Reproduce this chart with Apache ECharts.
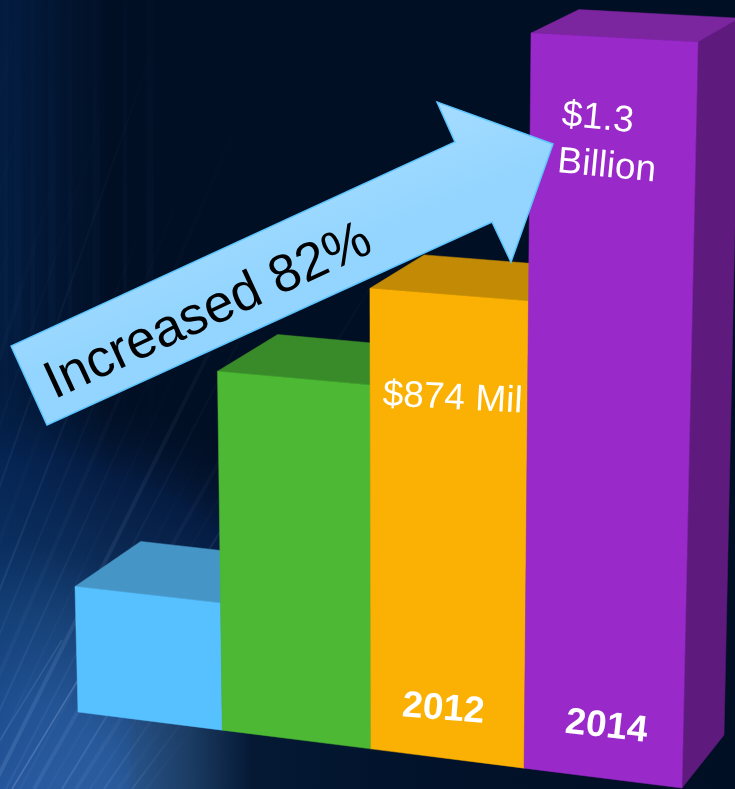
<!DOCTYPE html>
<html><head><meta charset="utf-8">
<style>html,body{margin:0;padding:0;background:#010f24}#c{width:735px;height:789px}</style>
<script src="https://cdn.jsdelivr.net/npm/echarts@6/dist/echarts.min.js"></script>
</head><body><div id="c"></div>
<script>
// ---- data ----
const categories = ['', ' ', '2012', '2014'];
const revenue = [315, 714, 874, 1300];
const valueLabels = ['', '', '$874 Mil', '$1.3\nBillion'];
const frontColors = ['#57C1FF', '#4CB833', '#FBB103', '#9929C8'];
const topColors = ['#4596C6', '#398B29', '#C28A05', '#7B259F'];
const sideColors = ['#3E86B2', '#33771F', '#A87803', '#5F1A7E'];
const arrowText = 'Increased 82%';

// ---- layout of the tilted picture plane ----
const PLANE = {bl:[78,712], br:[682,788], tr:[698,42], tl:[61,8]};
const VANISH = [1760,-570], DEPTH = 0.039;
const LABEL_OFF = {2:{dx:4,dy:104,rot:3,align:'center'}, 3:{dx:-54,dy:101,rot:5.5,align:'left'}};
const YEAR_OFF = {2:[-3.5,-49,4.5], 3:[4,-51,6.5]};

function makeWarp(q){
  const [x0,y0]=q.bl,[x1,y1]=q.br,[x2,y2]=q.tr,[x3,y3]=q.tl;
  const dx1=x1-x2,dx2=x3-x2,sx=x0-x1+x2-x3,dy1=y1-y2,dy2=y3-y2,sy=y0-y1+y2-y3;
  const den=dx1*dy2-dx2*dy1,g=(sx*dy2-dx2*sy)/den,h=(dx1*sy-sx*dy1)/den;
  const a=x1-x0+g*x1,b=x3-x0+h*x3,d=y1-y0+g*y1,e=y3-y0+h*y3;
  return (u,v)=>{const w=g*u+h*v+1;return [(a*u+b*v+x0)/w,(d*u+e*v+y0)/w];};
}
const warp = makeWarp(PLANE);
const back = p => [p[0]+DEPTH*(VANISH[0]-p[0]), p[1]+DEPTH*(VANISH[1]-p[1])];

function renderBar(params, api){
  const i = api.value(0), cs = params.coordSys;
  const band = api.size([1,0])[0];
  const top = api.coord([i, api.value(1)]);
  const toPlane = (px,py)=>warp((px-cs.x)/cs.width,(cs.y+cs.height-py)/cs.height);
  const bottomY = cs.y+cs.height;
  const bl=toPlane(top[0]-band/2,bottomY), br=toPlane(top[0]+band/2,bottomY);
  const tl=toPlane(top[0]-band/2,top[1]), tr=toPlane(top[0]+band/2,top[1]);
  const poly=(pts,fill)=>({type:'polygon',shape:{points:pts},style:{fill,stroke:fill,lineWidth:0.5}});
  const children=[
    poly([tr,br,back(br),back(tr)],sideColors[i]),
    poly([tl,tr,back(tr),back(tl)],topColors[i]),
    poly([bl,br,tr,tl],frontColors[i])
  ];
  const txt=(s,p,rot,extra)=>({type:'text',x:p[0],y:p[1],rotation:-rot*Math.PI/180,
    style:Object.assign({text:s,fill:'#fff',font:'37px "Liberation Sans", Arial, sans-serif',align:'center',verticalAlign:'middle'},extra||{})});
  const midTop=toPlane(top[0],top[1]), midBot=toPlane(top[0],bottomY);
  if(valueLabels[i]){
    const o=LABEL_OFF[i];
    children.push(txt(valueLabels[i],[midTop[0]+o.dx,midTop[1]+o.dy],o.rot,{align:o.align,lineHeight:47}));
  }
  if(categories[i].trim()){
    const o=YEAR_OFF[i];
    children.push(txt(categories[i],[midBot[0]+o[0],midBot[1]+o[1]],o[2],{font:'bold 37px "Liberation Sans", Arial, sans-serif'}));
  }
  return {type:'group',children};
}

// ---- decorative background ----
const rayAlpha=[0.05,0.10,0.04,0.14,0.07];
const rays=[];
for(let k=0;k<30;k++){
  const x0=-260+k*14, a=(82-(x0+260)/410*30)*Math.PI/180, L=300+(k%4)*90+(29-k)*14;
  const x2=x0+L*Math.cos(a), y2=789-L*Math.sin(a);
  rays.push({type:'line',silent:true,z:-8,shape:{x1:x0,y1:789,x2,y2},
    style:{lineWidth:k%3===0?4:2,stroke:new echarts.graphic.LinearGradient(x0,789,x2,y2,[
      {offset:0,color:'rgba(175,205,255,'+rayAlpha[k%5]+')'},{offset:1,color:'rgba(175,205,255,0)'}],true)}});
}
rays.push({type:'line',silent:true,z:-8,shape:{x1:12,y1:789,x2:78,y2:680},style:{stroke:'rgba(190,215,255,0.22)',lineWidth:1.5}});
rays.push({type:'line',silent:true,z:-8,shape:{x1:0,y1:740,x2:62,y2:640},style:{stroke:'rgba(190,215,255,0.12)',lineWidth:1.5}});
const stripes=[6,18,33,52,70,96,125,150].map((x,k)=>({type:'line',silent:true,z:-8,shape:{x1:x,y1:0,x2:x,y2:430},
  style:{lineWidth:k%2?7:4,stroke:new echarts.graphic.LinearGradient(x,430,x,0,[{offset:0,color:'rgba(40,110,190,0)'},{offset:0.3,color:'rgba(40,110,190,0.045)'},{offset:1,color:'rgba(40,110,190,0.015)'}],true)}}));

const arrowPts=[[11,346],[47,425],[492,222],[511,262],[553,144],[437,102],[455,142]];

const chart=echarts.init(document.getElementById('c'),null,{renderer:'canvas'});
chart.setOption({
  animation:false,
  backgroundColor:'#010f24',
  grid:{left:0,right:0,top:0,bottom:0},
  xAxis:{type:'category',data:categories,show:false},
  yAxis:{type:'value',min:90,max:1300,show:false},
  graphic:{elements:[
    {type:'rect',silent:true,z:-10,shape:{x:0,y:0,width:735,height:789},
      style:{fill:new echarts.graphic.RadialGradient(0,800,430,[
        {offset:0,color:'#3A6DB8'},{offset:0.25,color:'#2A5C9E'},{offset:0.45,color:'#1A4478'},{offset:0.6,color:'#0C2B56'},{offset:0.8,color:'#051C42'},{offset:1,color:'rgba(1,15,36,0)'}],true)}},
    {type:'rect',silent:true,z:-9,shape:{x:0,y:0,width:110,height:789},
      style:{fill:new echarts.graphic.LinearGradient(0,0,1,0,[{offset:0,color:'rgba(6,50,110,0.38)'},{offset:1,color:'rgba(6,50,110,0)'}])}}
  ].concat(rays).concat(stripes).concat([
    {type:'rect',silent:true,z:-7,shape:{x:130,y:620,width:605,height:169},
      style:{fill:new echarts.graphic.LinearGradient(130,0,735,0,[
        {offset:0,color:'rgba(43,77,117,0.25)'},{offset:0.1,color:'rgba(27,58,96,0.85)'},{offset:0.2,color:'rgba(5,25,53,1)'},{offset:0.5,color:'rgba(1,18,42,1)'},{offset:1,color:'rgba(1,15,36,1)'}],true)}},
    {type:'polygon',z:100,shape:{points:arrowPts},
      style:{fill:new echarts.graphic.LinearGradient(0,0,0.25,1,[{offset:0.1,color:'#BEE5FF'},{offset:0.75,color:'#93D5FF'}]),stroke:'#5CC5FF',lineWidth:1.5}},
    {type:'text',z:101,x:208.5,y:312,rotation:24.8*Math.PI/180,
      style:{text:arrowText,fill:'#000',font:'53px "Liberation Sans", Arial, sans-serif',align:'center',verticalAlign:'middle'}}
  ])},
  series:[{type:'custom',renderItem:renderBar,clip:false,
    encode:{x:0,y:1},
    data:revenue.map((v,i)=>[i,v])}]
});
</script></body></html>
